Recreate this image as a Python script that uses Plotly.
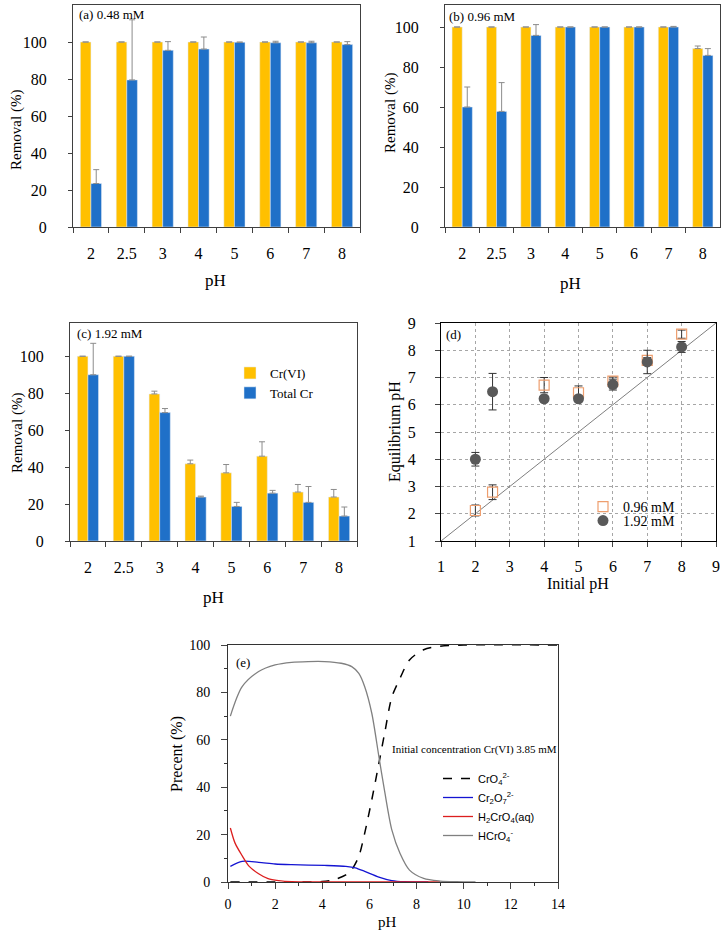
import plotly.graph_objects as go

W, H = 727, 936
SERIF = "Liberation Serif"
SANS = "Liberation Sans"

# ---------------- data ----------------
ph_cats = ["2", "2.5", "3", "4", "5", "6", "7", "8"]
removal_ticks = [0, 20, 40, 60, 80, 100]

a_cr6 = [100, 100, 100, 100, 100, 100, 100, 100]
a_cr6_err = [0, 0, 0, 0, 0, 0, 0, 0]
a_tot = [23.5, 79.5, 95.5, 96.2, 99.8, 99.6, 99.6, 98.6]
a_tot_err = [7.5, 32.5, 4.7, 6.5, 0.2, 0.8, 0.8, 1.6]

b_cr6 = [100, 100, 100, 100, 100, 100, 100, 89.2]
b_cr6_err = [0, 0, 0, 0, 0, 0, 0, 1.3]
b_tot = [60, 57.8, 95.8, 100, 100, 100, 100, 85.8]
b_tot_err = [10, 14.4, 5.4, 0, 0, 0, 0.3, 3.4]

c_cr6 = [100, 100, 79.6, 41.8, 36.9, 45.9, 26.5, 23.8]
c_cr6_err = [0, 0, 1.5, 2.0, 4.5, 7.8, 4.1, 4.1]
c_tot = [90, 100, 69.5, 23.8, 18.7, 25.9, 20.9, 13.5]
c_tot_err = [17, 0, 2.2, 0.5, 2.2, 1.5, 8.6, 4.9]

d_init = [2, 2.5, 4, 5, 6, 7, 8]
d_096 = [2.12, 2.79, 6.72, 6.44, 6.87, 7.63, 8.59]
d_096_err = [0.2, 0.27, 0.28, 0.25, 0.15, 0.1, 0.15]
d_192 = [4.0, 6.48, 6.22, 6.22, 6.74, 7.57, 8.12]
d_192_err = [0.25, 0.67, 0.1, 0.1, 0.2, 0.43, 0.2]
d_ref = [1, 9]

e_hcro4_ph = [0.1, 0.6, 1.3, 2.0, 2.7, 3.4, 4.1, 4.8, 5.25, 5.55, 5.8, 6.1, 6.4, 6.65, 6.95, 7.3, 7.7, 8.3, 9.0, 9.7, 10.5]
e_hcro4 = [70, 82.4, 88.8, 91.6, 92.7, 93, 93, 92.3, 90.9, 88, 82.4, 71.2, 53, 38, 22, 12, 5, 1.5, 0.4, 0.1, 0]
e_cro4_ph = [0.1, 2, 4.0, 4.5, 5.0, 5.25, 5.55, 5.8, 6.1, 6.4, 6.65, 6.95, 7.3, 7.7, 8.3, 9.0, 10, 14]
e_cro4 = [0, 0, 0.2, 1, 3, 5.2, 10.8, 20.6, 34.7, 50, 63, 78, 86, 93.7, 98, 99.5, 100, 100]
e_cr2o7_ph = [0.1, 0.6, 1.3, 2.0, 2.7, 4.1, 5.0, 5.4, 5.8, 6.4, 6.95, 7.5, 8.5]
e_cr2o7 = [6.6, 8.7, 8.3, 7.6, 7.3, 7.0, 6.6, 6.0, 4.5, 2.1, 0.6, 0.1, 0]
e_h2cro4_ph = [0.1, 0.3, 0.6, 0.9, 1.3, 1.7, 2.15, 2.7, 4, 9]
e_h2cro4 = [22.8, 16.4, 11.1, 6.6, 3.5, 1.4, 0.56, 0.1, 0, 0]

YEL = "#FFC000"
BLU = "#1F70C8"
ERR = "#8C8C8C"

fig = go.Figure()

def bars(xa, ya, y1, e1, y2, e2, show):
    fig.add_trace(go.Bar(x=ph_cats, y=y1, name="Cr(VI)", marker_color=YEL,
                         error_y=dict(type="data", array=e1, arrayminus=[0]*len(e1), symmetric=False,
                                      color=ERR, thickness=1, width=3),
                         xaxis=xa, yaxis=ya, showlegend=show, legend="legend"))
    fig.add_trace(go.Bar(x=ph_cats, y=y2, name="Total Cr", marker_color=BLU,
                         error_y=dict(type="data", array=e2, arrayminus=[0]*len(e2), symmetric=False,
                                      color=ERR, thickness=1, width=3),
                         xaxis=xa, yaxis=ya, showlegend=show, legend="legend"))

bars("x", "y", a_cr6, a_cr6_err, a_tot, a_tot_err, False)
bars("x2", "y2", b_cr6, b_cr6_err, b_tot, b_tot_err, False)
bars("x3", "y3", c_cr6, c_cr6_err, c_tot, c_tot_err, True)

# panel d
fig.add_trace(go.Scatter(x=d_ref, y=d_ref, mode="lines", line=dict(color="#7F7F7F", width=1),
                         xaxis="x4", yaxis="y4", showlegend=False, hoverinfo="skip"))
fig.add_trace(go.Scatter(x=d_init, y=d_096, mode="markers", name="0.96 mM",
                         marker=dict(symbol="square-open", size=10, color="#EE9E6E", line=dict(width=1.2)),
                         error_y=dict(type="data", array=d_096_err, color="#333333", thickness=1, width=4),
                         xaxis="x4", yaxis="y4", legend="legend2"))
fig.add_trace(go.Scatter(x=d_init, y=d_192, mode="markers", name="1.92 mM",
                         marker=dict(symbol="circle", size=11, color="#595959"),
                         error_y=dict(type="data", array=d_192_err, color="#333333", thickness=1, width=4),
                         xaxis="x4", yaxis="y4", legend="legend4"))

# panel e
fig.add_trace(go.Scatter(x=e_cro4_ph, y=e_cro4, mode="lines", name="CrO<sub>4</sub><sup>2-</sup>",
                         line=dict(color="black", width=1.5, dash="dash", shape="spline", smoothing=0.8),
                         xaxis="x5", yaxis="y5", legend="legend3"))
fig.add_trace(go.Scatter(x=e_cr2o7_ph, y=e_cr2o7, mode="lines", name="Cr<sub>2</sub>O<sub>7</sub><sup>2-</sup>",
                         line=dict(color="#1414D2", width=1.3, shape="spline", smoothing=0.8),
                         xaxis="x5", yaxis="y5", legend="legend3"))
fig.add_trace(go.Scatter(x=e_h2cro4_ph, y=e_h2cro4, mode="lines", name="H<sub>2</sub>CrO<sub>4</sub>(aq)",
                         line=dict(color="#DC1E1E", width=1.3, shape="spline", smoothing=0.8),
                         xaxis="x5", yaxis="y5", legend="legend3"))
fig.add_trace(go.Scatter(x=e_hcro4_ph, y=e_hcro4, mode="lines", name="HCrO<sub>4</sub><sup>-</sup>",
                         line=dict(color="#808080", width=1.3, shape="spline", smoothing=0.8),
                         xaxis="x5", yaxis="y5", legend="legend3"))

def px_x(v): return v / W
def px_y(v): return 1 - v / H

LINE = "#404040"
tickfont = dict(family=SERIF, size=16, color="black")

def bar_x(dom, anchor):
    return dict(domain=[px_x(dom[0]), px_x(dom[1])], anchor=anchor, type="category",
                showline=True, linecolor=LINE, linewidth=1, mirror=True,
                ticks="outside", tickson="boundaries", ticklen=5, tickcolor=LINE,
                tickfont=tickfont, ticklabelstandoff=12, showgrid=False, fixedrange=True)

def bar_y(dom, anchor, top):
    return dict(domain=[px_y(dom[1]), px_y(dom[0])], anchor=anchor, range=[0, top],
                tickmode="array", tickvals=removal_ticks,
                showline=True, linecolor=LINE, linewidth=1, mirror=True,
                ticks="outside", ticklen=4, tickcolor=LINE, tickfont=tickfont,
                ticklabelstandoff=18, showgrid=False, zeroline=False, fixedrange=True)

layout = dict(
    width=W, height=H, margin=dict(l=0, r=0, t=0, b=0, pad=0, autoexpand=False),
    paper_bgcolor="white", plot_bgcolor="white",
    font=dict(family=SERIF, size=14, color="black"),
    barmode="group", bargap=0.41, bargroupgap=0,
    xaxis=bar_x((73, 360), "y"), yaxis=bar_y((5, 227), "x", 120),
    xaxis2=bar_x((445, 720), "y2"), yaxis2=bar_y((5, 227), "x2", 111),
    xaxis3=bar_x((70, 357), "y3"), yaxis3=bar_y((323, 541), "x3", 118),
    xaxis4=dict(domain=[px_x(441), px_x(716)], anchor="y4", range=[1, 9], dtick=1,
                showline=True, linecolor="black", mirror=True, ticks="outside", ticklen=5,
                tickfont=tickfont, ticklabelstandoff=6,
                showgrid=True, gridcolor="#A6A6A6", griddash="dot", gridwidth=1, zeroline=False),
    yaxis4=dict(domain=[px_y(541), px_y(323)], anchor="x4", range=[1, 9], dtick=1,
                showline=True, linecolor="black", mirror=True, ticks="outside", ticklen=5,
                tickfont=tickfont, ticklabelstandoff=16,
                showgrid=True, gridcolor="#A6A6A6", griddash="dot", gridwidth=1, zeroline=False),
    xaxis5=dict(domain=[px_x(228), px_x(558)], anchor="y5", range=[0, 14], dtick=2,
                showline=True, linecolor="#333333", mirror=True, ticks="outside", ticklen=6,
                tickfont=dict(family=SERIF, size=14), ticklabelstandoff=3,
                minor=dict(dtick=1, ticks="outside", ticklen=3, tickcolor="#333333"),
                showgrid=False, zeroline=False),
    yaxis5=dict(domain=[px_y(882), px_y(645)], anchor="x5", range=[0, 100], dtick=20,
                showline=True, linecolor="#333333", mirror=True, ticks="outside", ticklen=6,
                tickfont=dict(family=SERIF, size=14), ticklabelstandoff=8,
                minor=dict(dtick=10, ticks="outside", ticklen=3, tickcolor="#333333"),
                showgrid=False, zeroline=False),
    legend=dict(x=px_x(230), y=px_y(358), xanchor="left", yanchor="top",
                font=dict(family=SERIF, size=13), bgcolor="rgba(0,0,0,0)"),
    legend2=dict(x=px_x(583), y=px_y(507), xanchor="left", yanchor="middle",
                 font=dict(family=SERIF, size=14), bgcolor="rgba(0,0,0,0)"),
    legend4=dict(x=px_x(583), y=px_y(521), xanchor="left", yanchor="middle",
                 font=dict(family=SERIF, size=14), bgcolor="rgba(0,0,0,0)"),
    legend3=dict(x=px_x(438), y=px_y(764), xanchor="left", yanchor="top",
                 font=dict(family=SANS, size=11), bgcolor="rgba(0,0,0,0)"),
)
fig.update_layout(**layout)

def ann(text, x, y, size=14, angle=0, xanchor="center", family=SERIF):
    fig.add_annotation(text=text, x=px_x(x), y=px_y(y), xref="paper", yref="paper",
                       showarrow=False, textangle=angle, xanchor=xanchor, yanchor="middle",
                       font=dict(family=family, size=size, color="black"))

# panel labels
ann("(a) 0.48 mM", 77, 15, 13, xanchor="left")
ann("(b) 0.96 mM", 447, 16, 13, xanchor="left")
ann("(c) 1.92 mM", 75, 333, 13, xanchor="left")
ann("(d)", 444, 334, 13, xanchor="left")
ann("(e)", 234, 662, 13, xanchor="left")
ann("Initial concentration Cr(VI) 3.85 mM", 475, 749, 11)

# axis titles
ann("Removal (%)", 17, 130, 15, angle=-90)
ann("pH", 215, 280, 17)
ann("Removal (%)", 390, 113, 15, angle=-90)
ann("pH", 570, 283, 17)
ann("Removal (%)", 17, 433, 15, angle=-90)
ann("pH", 213, 597, 17)
ann("Equilibrium pH", 395, 431, 16, angle=-90)
ann("Initial pH", 578, 584, 16)
ann("Precent (%)", 177, 754, 16, angle=-90)
ann("pH", 387, 922, 15)

fig.write_html("out.html", config={"displayModeBar": False},
               post_script="document.body.style.margin='0';")
